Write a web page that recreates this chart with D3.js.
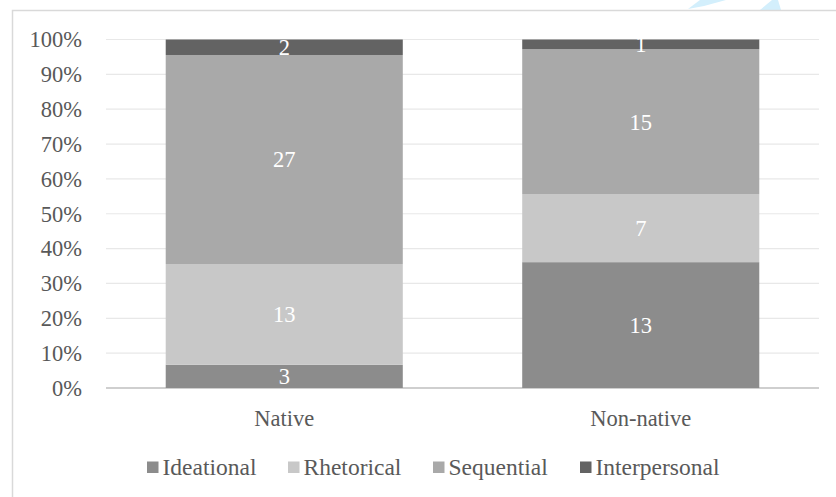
<!DOCTYPE html>
<html>
<head>
<meta charset="utf-8">
<script src="https://cdn.jsdelivr.net/npm/d3@7"></script>
<style>
  body { margin: 0; background: #fff; }
  svg text { font-family: "Liberation Serif", "DejaVu Serif", serif; }
</style>
</head>
<body>
<script>
var categories = ["Native", "Non-native"];
var series = ["Ideational", "Rhetorical", "Sequential", "Interpersonal"];
var ideational = [3, 13];
var rhetorical = [13, 7];
var sequential = [27, 15];
var interpersonal = [2, 1];
var colors = ["#8c8c8c", "#c8c8c8", "#a9a9a9", "#636363"];
var yTicks = [0, 0.1, 0.2, 0.3, 0.4, 0.5, 0.6, 0.7, 0.8, 0.9, 1];

var width = 836, height = 497;
var plotLeft = 106, plotRight = 819, plotTop = 39.5, plotBottom = 388;
var fontSize = "22.5px";

var svg = d3.select("body").append("svg")
    .attr("width", width)
    .attr("height", height);

// decorative blue marks at top right
svg.append("path")
    .attr("d", "M700,0 L726,0 L704,6 L688,9 Z")
    .attr("fill", "#d3effc");
svg.append("path")
    .attr("d", "M760,10 L772,0 L778,0 L781,10 Z")
    .attr("fill", "#d3effc");

// chart frame
svg.append("rect")
    .attr("x", 12.5)
    .attr("y", 10.5)
    .attr("width", 900)
    .attr("height", 600)
    .attr("fill", "none")
    .attr("stroke", "#d9d9d9")
    .attr("stroke-width", 1.5);

var x = d3.scaleBand()
    .domain(categories)
    .range([plotLeft, plotRight])
    .paddingInner(0.335)
    .paddingOuter(0.1675);

var y = d3.scaleLinear()
    .domain([0, 1])
    .range([plotBottom, plotTop]);

// gridlines
svg.append("g")
    .selectAll("line")
    .data(yTicks)
    .enter()
    .append("line")
    .attr("x1", plotLeft)
    .attr("x2", plotRight)
    .attr("y1", function (d) { return y(d); })
    .attr("y2", function (d) { return y(d); })
    .attr("stroke", function (d) { return d === 0 ? "#bfbfbf" : "#e8e8e8"; })
    .attr("stroke-width", function (d) { return d === 0 ? 1.5 : 1.2; });

// y tick labels
svg.append("g")
    .selectAll("text")
    .data(yTicks)
    .enter()
    .append("text")
    .attr("x", 82)
    .attr("y", function (d) { return y(d); })
    .attr("dy", "0.35em")
    .attr("text-anchor", "end")
    .attr("fill", "#595959")
    .attr("font-size", fontSize)
    .text(d3.format(".0%"));

// build stacked data
var rows = categories.map(function (c, i) {
    var total = ideational[i] + rhetorical[i] + sequential[i] + interpersonal[i];
    return {
        category: c,
        Ideational: ideational[i] / total,
        Rhetorical: rhetorical[i] / total,
        Sequential: sequential[i] / total,
        Interpersonal: interpersonal[i] / total,
        raw: [ideational[i], rhetorical[i], sequential[i], interpersonal[i]]
    };
});

var stacked = d3.stack().keys(series)(rows);

var layers = svg.append("g")
    .selectAll("g")
    .data(stacked)
    .enter()
    .append("g")
    .attr("fill", function (d, i) { return colors[i]; });

layers.selectAll("rect")
    .data(function (d) { return d; })
    .enter()
    .append("rect")
    .attr("x", function (d) { return x(d.data.category); })
    .attr("y", function (d) { return y(d[1]); })
    .attr("width", x.bandwidth())
    .attr("height", function (d) { return y(d[0]) - y(d[1]); });

// data labels
stacked.forEach(function (layer, si) {
    svg.append("g")
        .selectAll("text")
        .data(layer)
        .enter()
        .append("text")
        .attr("x", function (d) { return x(d.data.category) + x.bandwidth() / 2; })
        .attr("y", function (d) { return y((d[0] + d[1]) / 2); })
        .attr("dy", "0.35em")
        .attr("text-anchor", "middle")
        .attr("fill", "#ffffff")
        .attr("font-size", fontSize)
        .text(function (d) { return d.data.raw[si]; });
});

// category labels
svg.append("g")
    .selectAll("text")
    .data(categories)
    .enter()
    .append("text")
    .attr("x", function (d) { return x(d) + x.bandwidth() / 2; })
    .attr("y", 418)
    .attr("dy", "0.35em")
    .attr("text-anchor", "middle")
    .attr("fill", "#595959")
    .attr("font-size", fontSize)
    .text(function (d) { return d; });

// legend
var legendX = [147, 288, 433, 580];
var legend = svg.append("g")
    .selectAll("g")
    .data(series)
    .enter()
    .append("g")
    .attr("transform", function (d, i) { return "translate(" + legendX[i] + ",467)"; });

legend.append("rect")
    .attr("x", 0)
    .attr("y", -5.5)
    .attr("width", 11.5)
    .attr("height", 11.5)
    .attr("fill", function (d, i) { return colors[i]; });

legend.append("text")
    .attr("x", 15.5)
    .attr("y", 0)
    .attr("dy", "0.35em")
    .attr("fill", "#595959")
    .attr("font-size", "23.5px")
    .text(function (d) { return d; });
</script>
</body>
</html>
